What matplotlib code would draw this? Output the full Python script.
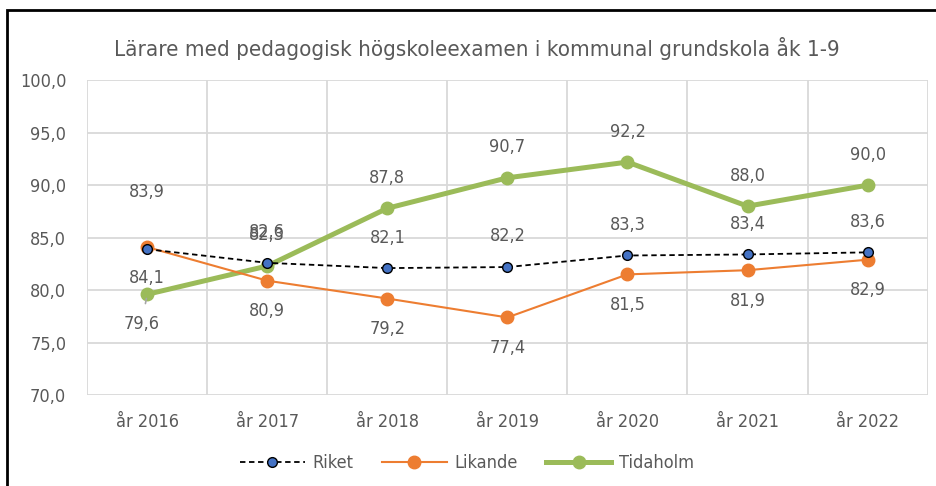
import matplotlib.pyplot as plt
from matplotlib.patches import Rectangle
from matplotlib.ticker import FuncFormatter, FixedLocator

plt.rcParams["font.family"] = ["DejaVu Sans"]
plt.rcParams["font.stretch"] = "condensed"

years = ["år 2016", "år 2017", "år 2018", "år 2019", "år 2020", "år 2021", "år 2022"]
riket = [83.9, 82.6, 82.1, 82.2, 83.3, 83.4, 83.6]
likande = [84.1, 80.9, 79.2, 77.4, 81.5, 81.9, 82.9]
tidaholm = [79.6, 82.3, 87.8, 90.7, 92.2, 88.0, 90.0]

TEXT = "#595959"
GRID = "#D9D9D9"


def fmt(v):
    return f"{v:.1f}".replace(".", ",")


fig = plt.figure(figsize=(9.37, 4.86), dpi=100)
ax = fig.add_axes([0.093, 0.187, 0.897, 0.648])
x = list(range(len(years)))

ax.plot(x, tidaholm, color="#9BBB59", lw=3.6, marker="o", ms=9, zorder=3, label="Tidaholm")
ax.plot(x, likande, color="#ED7D31", lw=1.5, marker="o", ms=9, zorder=4, label="Likande")
ax.plot(x, riket, color="black", lw=1.3, ls=(0, (3, 2)), marker="o", ms=7,
        mfc="#4472C4", mec="black", zorder=5, label="Riket")

# data labels (offsets in points)
for i, v in enumerate(riket):
    dy = 41 if i == 0 else 22
    ax.annotate(fmt(v), (i, v), xytext=(0, dy), textcoords="offset points",
                ha="center", va="center", fontsize=13, color=TEXT)
for i, v in enumerate(likande):
    ax.annotate(fmt(v), (i, v), xytext=(0, -22), textcoords="offset points",
                ha="center", va="center", fontsize=13, color=TEXT)
for i, v in enumerate(tidaholm):
    if i == 0:
        ax.annotate(fmt(v), (i, v), xytext=(-4, -21), textcoords="offset points",
                    ha="center", va="center", fontsize=13, color=TEXT,
                    arrowprops=dict(arrowstyle="-", color="#A6A6A6", lw=1.2,
                                    shrinkA=6, shrinkB=3))
    else:
        ax.annotate(fmt(v), (i, v), xytext=(0, 22), textcoords="offset points",
                    ha="center", va="center", fontsize=13, color=TEXT)

ax.set_xlim(-0.5, len(years) - 0.5)
ax.set_ylim(70, 100)
ax.set_yticks(range(70, 101, 5))
ax.yaxis.set_major_formatter(FuncFormatter(lambda v, p: fmt(v)))
ax.set_xticks(x)
ax.set_xticklabels(years)
ax.xaxis.set_minor_locator(FixedLocator([i - 0.5 for i in range(len(years) + 1)]))
ax.grid(axis="y", color=GRID, lw=1.3)
ax.grid(axis="x", which="minor", color=GRID, lw=1.3)
ax.set_axisbelow(True)
ax.tick_params(which="both", length=0, labelsize=13, colors=TEXT)
ax.tick_params(axis="y", pad=15)
ax.tick_params(axis="x", pad=13)
for s in ax.spines.values():
    s.set_visible(False)

fig.text(0.509, 0.901, "Lärare med pedagogisk högskoleexamen i kommunal grundskola åk 1-9",
         ha="center", va="center", fontsize=16, color=TEXT)

handles, labels = ax.get_legend_handles_labels()
order = [2, 1, 0]
fig.legend([handles[k] for k in order], [labels[k] for k in order],
           loc="center", bbox_to_anchor=(0.498, 0.047), ncol=3, frameon=False,
           fontsize=13, labelcolor=TEXT, handlelength=3.6, handletextpad=0.4,
           columnspacing=1.6)

fig.patches.append(Rectangle((0.008, -0.05), 1.2, 1.03, transform=fig.transFigure,
                             fill=False, edgecolor="black", lw=2))

fig.savefig("out.png", dpi=100)
